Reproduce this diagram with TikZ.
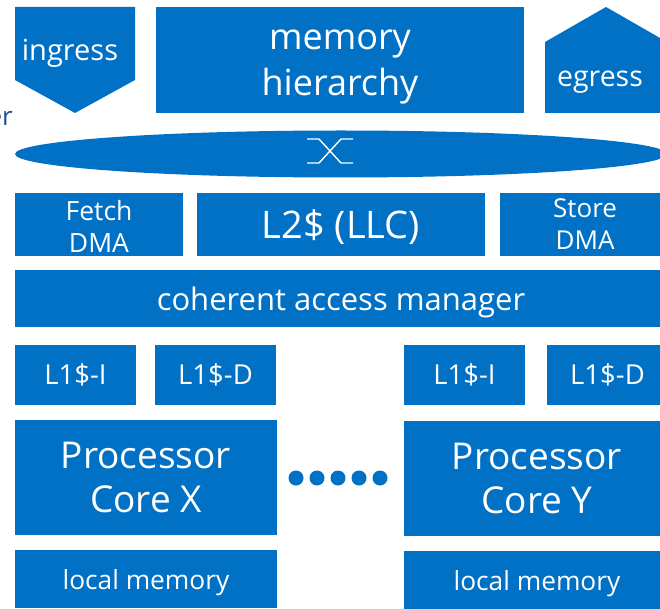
\documentclass[tikz,border=0pt]{standalone}
\usepackage{fontspec}
\setmainfont{Open Sans}
\definecolor{iblue}{HTML}{0071C5}
\definecolor{inavy}{HTML}{1F4E8F}
\tikzset{
  blk/.style={fill=iblue, inner sep=0pt, anchor=center},
  lbl/.style={text=white, inner sep=0pt, align=center, anchor=center},
  fsz/.style 2 args={font=\fontsize{#1}{#2}\selectfont},
  dot/.style={circle, fill=iblue, minimum size=15pt, inner sep=0pt},
}
\begin{document}
\begin{tikzpicture}[x=1pt, y=-1pt]
\useasboundingbox (0,0) rectangle (660,609);
\clip (0,0) rectangle (660,609);

% top row: ingress / memory hierarchy / egress
\fill[iblue] (15,7) -- (135,7) -- (135,80) -- (75,113) -- (15,80) -- cycle;
\node[lbl, fsz={29}{33}] (ingress) at (70,53) {ingress};

\node[blk, minimum width=368pt, minimum height=106pt] (mem) at (340,60) {};
\node[lbl, fsz={36}{46}] (mem-t) at (340,67) {memory\\hierarchy};

\fill[iblue] (545,42) -- (606,7) -- (667,42) -- (667,113) -- (545,113) -- cycle;
\node[lbl, fsz={28.5}{32}] (egress) at (600,82) {egress};

% partial label at the left edge
\node[text=inavy, anchor=base east, inner sep=0pt, fsz={26}{30}] (side) at (13,126) {er};

% interconnect
\fill[iblue] (341,154) ellipse [x radius=326pt, y radius=23.5pt];
\coordinate (xc) at (330,151);
\draw[white, line width=1.4pt] (307,139) -- (319,139) -- (341,163) -- (353,163);
\draw[white, line width=1.4pt] (353,139) -- (341,139) -- (319,163) -- (307,163);

% L2 level
\node[blk, minimum width=168pt, minimum height=63pt] (fetch) at (99,224.5) {};
\node[lbl, fsz={26.5}{32}] (fetch-t) at (99,226) {Fetch\\DMA};
\node[blk, minimum width=288pt, minimum height=63pt] (l2) at (341,224.5) {};
\node[lbl, fsz={38}{42}] (l2-t) at (341,227.5) {L2\$ (LLC)};
\node[blk, minimum width=170pt, minimum height=63pt] (store) at (585,224.5) {};
\node[lbl, fsz={26}{32}] (store-t) at (585,224.5) {Store\\DMA};

\node[blk, minimum width=652pt, minimum height=57pt] (cam) at (341,298.5) {};
\node[lbl, fsz={31}{34}] (cam-t) at (341,302.5) {coherent access manager};

% L1 caches
\node[blk, minimum width=121pt, minimum height=60pt] (l1ix) at (75.5,375) {};
\node[lbl, fsz={27.5}{30}] (l1ix-t) at (75.5,375) {L1\$-I};
\node[blk, minimum width=121pt, minimum height=60pt] (l1dx) at (215.5,375) {};
\node[lbl, fsz={27.5}{30}] (l1dx-t) at (215.5,375) {L1\$-D};
\node[blk, minimum width=121pt, minimum height=60pt] (l1iy) at (464.5,375) {};
\node[lbl, fsz={27.5}{30}] (l1iy-t) at (464.5,375) {L1\$-I};
\node[blk, minimum width=121pt, minimum height=60pt] (l1dy) at (607.5,375) {};
\node[lbl, fsz={27.5}{30}] (l1dy-t) at (607.5,375) {L1\$-D};

% cores
\node[blk, minimum width=262pt, minimum height=115pt] (corex) at (146,477.5) {};
\node[lbl, fsz={37}{44}] (corex-t) at (146,477.5) {Processor\\Core X};
\node[blk, minimum width=266pt, minimum height=115pt] (corey) at (537,478) {};
\node[lbl, fsz={37}{44}] (corey-t) at (537,478) {Processor\\Core Y};

\foreach \i/\xx in {1/296,2/317,3/338,4/359,5/380}
  \node[dot] (d\i) at (\xx,478) {};

% local memories
\node[blk, minimum width=262pt, minimum height=58pt] (lmx) at (146,579) {};
\node[lbl, fsz={26.3}{30}] (lmx-t) at (146,583) {local memory};
\node[blk, minimum width=266pt, minimum height=58pt] (lmy) at (537,580) {};
\node[lbl, fsz={26.3}{30}] (lmy-t) at (537,584) {local memory};
\end{tikzpicture}
\end{document}
